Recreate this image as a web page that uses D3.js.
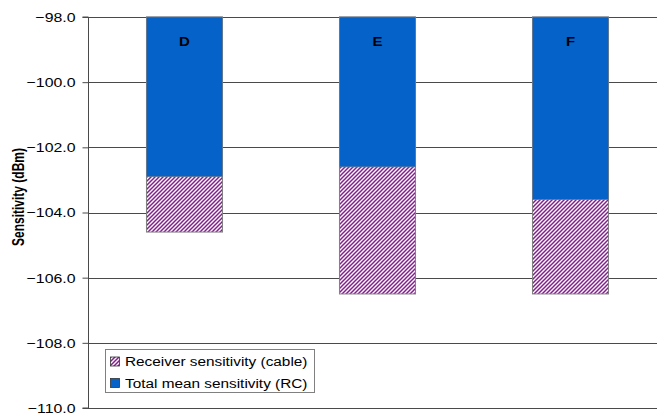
<!DOCTYPE html>
<html>
<head>
<meta charset="utf-8">
<script src="https://cdn.jsdelivr.net/npm/d3@7/dist/d3.min.js"></script>
<style>
  html, body { margin: 0; padding: 0; background: #fff; }
  svg { display: block; font-family: "Liberation Sans", Arial, sans-serif; }
</style>
</head>
<body>
<svg id="chart" width="657" height="414"></svg>
<script>
// Devices and their sensitivities (dBm)
const devices = ["D", "E", "F"];
const cableSensitivity = [-104.6, -106.5, -106.5];   // Receiver sensitivity (cable)
const totalMeanRC = [-102.9, -102.6, -103.6];        // Total mean sensitivity (RC)
const yTicks = [-98, -100, -102, -104, -106, -108, -110];
const seriesNames = ["Receiver sensitivity (cable)", "Total mean sensitivity (RC)"];

const svg = d3.select("#chart");
const plot = { left: 88, right: 667, top: 17, bottom: 408 };
const blue = "#0462C8";
const purple = "#80208A";

// Diagonal hatch for the cable series
const defs = svg.append("defs");
const pat = defs.append("pattern")
  .attr("id", "hatch").attr("patternUnits", "userSpaceOnUse")
  .attr("width", 4).attr("height", 4);
pat.append("rect").attr("width", 4).attr("height", 4).attr("fill", "#fff");
pat.append("path")
  .attr("d", "M-1,1 L1,-1 M0,4 L4,0 M3,5 L5,3")
  .attr("stroke", purple).attr("stroke-width", 1.5);

const y = d3.scaleLinear().domain([-110, -98]).range([plot.bottom, plot.top]);
const x = d3.scaleBand().domain(devices)
  .range([plot.left, plot.right]).paddingInner(0.606).paddingOuter(0.303);

// Horizontal gridlines
svg.append("g").selectAll("line").data(yTicks).join("line")
  .attr("x1", plot.left).attr("x2", plot.right)
  .attr("y1", d => Math.round(y(d)) + 0.5).attr("y2", d => Math.round(y(d)) + 0.5)
  .attr("stroke", "#4a4a4a").attr("stroke-width", 1);

// Cable sensitivity bars (hatched), hanging from the top of the axis
svg.append("g").selectAll("rect").data(devices).join("rect")
  .attr("x", d => x(d)).attr("width", x.bandwidth())
  .attr("y", y(-98))
  .attr("height", (d, i) => y(cableSensitivity[i]) - y(-98))
  .attr("fill", "url(#hatch)").attr("stroke", "#808080").attr("stroke-width", 1);

// Total mean sensitivity bars (solid blue) drawn on top
svg.append("g").selectAll("rect").data(devices).join("rect")
  .attr("x", d => x(d)).attr("width", x.bandwidth())
  .attr("y", y(-98))
  .attr("height", (d, i) => y(totalMeanRC[i]) - y(-98))
  .attr("fill", blue).attr("stroke", "#6a7a90").attr("stroke-width", 0.8);

// Device labels inside the bars
svg.append("g").selectAll("text").data(devices).join("text")
  .attr("transform", d => `translate(${x(d) + x.bandwidth() / 2},46) scale(1.25,1)`)
  .attr("text-anchor", "middle")
  .attr("font-size", 12).attr("font-weight", "bold").attr("fill", "#000")
  .text(d => d);

// Y axis
const yAxis = d3.axisLeft(y).tickValues(yTicks).tickSize(6).tickFormat(d3.format(".1f"));
const ga = svg.append("g").attr("transform", `translate(${plot.left + 0.5},0)`).call(yAxis);
ga.select(".domain").attr("stroke", "#4a4a4a").attr("d", `M-6,${y(-98)}H0V${y(-110)}H-6`);
ga.selectAll(".tick line").attr("stroke", "#4a4a4a");
ga.selectAll(".tick text")
  .attr("font-family", "Liberation Sans, Arial, sans-serif")
  .attr("font-size", 13).attr("fill", "#000")
  .attr("x", -13 / 1.22).attr("dy", "0.34em")
  .attr("transform", "scale(1.22,1)");

// Y axis title
svg.append("text")
  .attr("transform", `translate(24,197) scale(1.3,1) rotate(-90)`)
  .attr("text-anchor", "middle")
  .attr("font-size", 12).attr("font-weight", "bold").attr("fill", "#000")
  .text("Sensitivity (dBm)");

// Legend
const lg = svg.append("g");
lg.append("rect").attr("x", 105.5).attr("y", 349.5).attr("width", 209).attr("height", 43)
  .attr("fill", "#fff").attr("stroke", "#808080");
const fills = ["url(#hatch)", blue];
seriesNames.forEach((name, i) => {
  const cy = 361.5 + i * 21.5;
  lg.append("rect").attr("x", 110.5).attr("y", cy - 4.5).attr("width", 9).attr("height", 9)
    .attr("fill", fills[i]).attr("stroke", "#333").attr("stroke-width", 0.8);
  lg.append("text")
    .attr("transform", `translate(125,${cy + 4.5}) scale(1.28,1)`)
    .attr("font-size", 12).attr("fill", "#000")
    .text(name);
});
</script>
</body>
</html>
